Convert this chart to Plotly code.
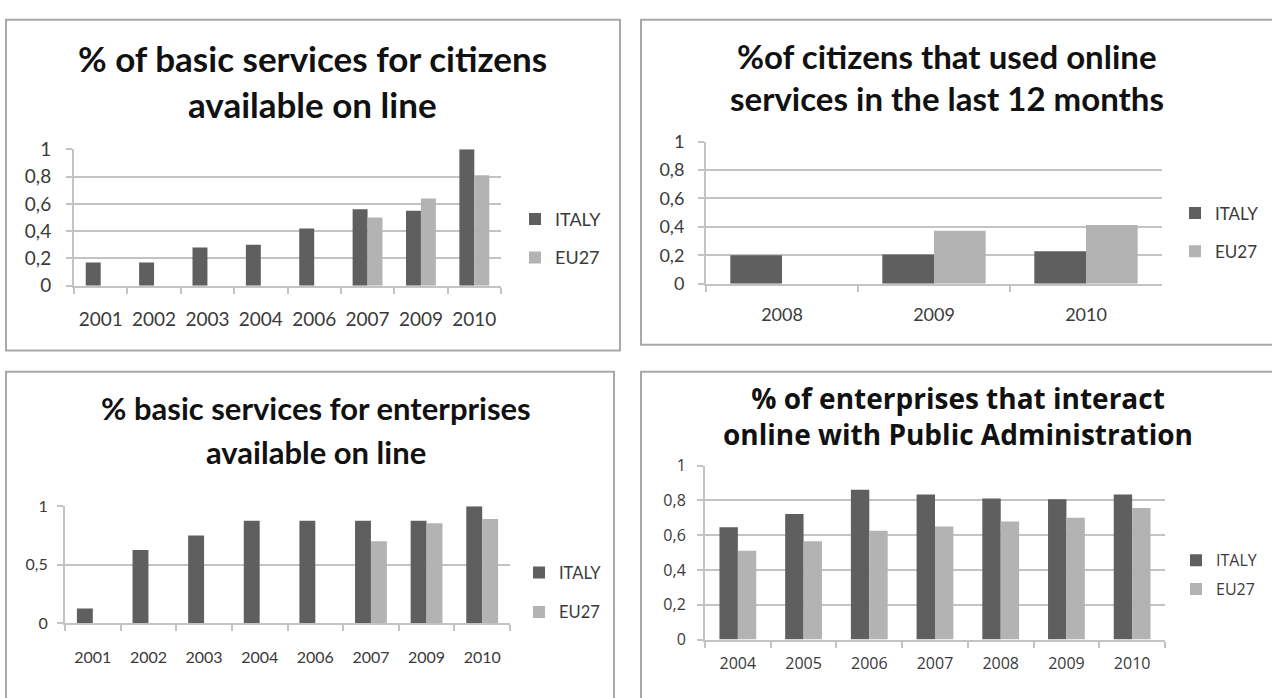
import plotly.graph_objects as go

# ---- data -------------------------------------------------------------
years_citizens_services = ["2001", "2002", "2003", "2004", "2006", "2007", "2009", "2010"]
italy_citizens_services = [0.17, 0.17, 0.28, 0.30, 0.42, 0.56, 0.55, 1.00]
eu27_citizens_services = [None, None, None, None, None, 0.50, 0.64, 0.81]

years_citizens_usage = ["2008", "2009", "2010"]
italy_citizens_usage = [0.20, 0.205, 0.228]
eu27_citizens_usage = [None, 0.373, 0.414]

years_enterprise_services = ["2001", "2002", "2003", "2004", "2006", "2007", "2009", "2010"]
italy_enterprise_services = [0.125, 0.625, 0.75, 0.875, 0.875, 0.875, 0.875, 1.00]
eu27_enterprise_services = [None, None, None, None, None, 0.70, 0.855, 0.89]

years_enterprise_usage = ["2004", "2005", "2006", "2007", "2008", "2009", "2010"]
italy_enterprise_usage = [0.645, 0.722, 0.861, 0.833, 0.811, 0.806, 0.833]
eu27_enterprise_usage = [0.511, 0.565, 0.626, 0.650, 0.678, 0.700, 0.756]

series_names = ["ITALY", "EU27"]

titles = [
    ["% of basic services for citizens", "available on line"],
    ["%of citizens that used online", "services in the last 12 months"],
    ["% basic services for enterprises", "available on line"],
    ["% of enterprises that interact", "online with Public Administration"],
]

# ---- page geometry (pixels) ------------------------------------------
W, H = 1272, 698
DARK = "#5f5f5f"
LIGHT = "#b3b3b3"
GRID = "#c3c3c3"
BORDER = "#a8a8a8"
TEXT = "#3a3a3a"
FONT = "Lato, Carlito, sans-serif"
FONT2 = "Open Sans, sans-serif"


def px(x):
    return x / W


def py(y):
    return 1 - y / H


# title_xy: centre x, then the centre y of each title line (None -> one
# two-line annotation centred on the single value given)
panels = [
    dict(cats=years_citizens_services, it=italy_citizens_services, eu=eu27_citizens_services,
         plot=(74, 501, 142, 283), box=(6, 620, 8, 350), bw=0.28, dtick=0.2,
         title_xy=(312, 48, 95), tsize=35, tfont=FONT,
         tick=19, xstand=16, ystand=11, fam=FONT,
         legend=(515, 234), lsize=18, lgap=12),
    dict(cats=years_citizens_usage, it=italy_citizens_usage, eu=eu27_citizens_usage,
         plot=(706, 1162, 134, 281), box=(641, 1300, 8, 344), bw=0.34, dtick=0.2,
         title_xy=(947, 45, 89), tsize=33, tfont=FONT,
         tick=18, xstand=14, ystand=10, fam=FONT,
         legend=(1175, 228), lsize=17, lgap=13),
    dict(cats=years_enterprise_services, it=italy_enterprise_services, eu=eu27_enterprise_services,
         plot=(65, 510, 511, 632), box=(6, 614, 372, 720), bw=0.286, dtick=0.5,
         title_xy=(316, 410, 455), tsize=31, tfont=FONT,
         tick=16, xstand=19, ystand=6, fam=FONT,
         legend=(519, 600), lsize=16.5, lgap=15),
    dict(cats=years_enterprise_usage, it=italy_enterprise_usage, eu=eu27_enterprise_usage,
         plot=(705, 1165, 469, 649), box=(641, 1300, 372, 720), bw=0.28, dtick=0.2,
         title_xy=(958, 418, None), tsize=28, tfont=FONT2,
         tick=16, xstand=8, ystand=8, fam=FONT2,
         legend=(1176, 582), lsize=16, lgap=5),
]

fig = go.Figure()
layout = dict(
    width=W, height=H, margin=dict(l=0, r=0, t=0, b=0),
    paper_bgcolor="white", plot_bgcolor="white",
    separators=",.", barmode="overlay", showlegend=True,
    shapes=[], annotations=[],
)

for i, p in enumerate(panels, start=1):
    xa = "x" if i == 1 else f"x{i}"
    ya = "y" if i == 1 else f"y{i}"
    lg = "legend" if i == 1 else f"legend{i}"
    for name, vals, color, off in ((series_names[0], p["it"], DARK, -p["bw"]),
                                   (series_names[1], p["eu"], LIGHT, 0)):
        fig.add_trace(go.Bar(
            x=p["cats"], y=vals, name=name, marker_color=color, marker_line_width=0,
            width=p["bw"], offset=off, xaxis=xa, yaxis=ya, legend=lg,
            legendgroup=f"{lg}-{name}", hoverinfo="skip",
        ))

    x0, x1, y0, y1 = p["plot"]
    sfx = "" if i == 1 else str(i)
    tickfont = dict(family=p["fam"], size=p["tick"], color=TEXT)
    layout["xaxis" + sfx] = dict(
        domain=[px(x0), px(x1)], anchor=ya, type="category",
        range=[-0.5, len(p["cats"]) - 0.5],
        showline=True, linecolor=GRID, linewidth=2,
        ticks="outside", tickson="boundaries", ticklen=6, tickcolor=GRID, tickwidth=1.5,
        tickangle=0, ticklabelstandoff=p["xstand"], tickfont=tickfont,
        showgrid=False, fixedrange=True,
    )
    layout["yaxis" + sfx] = dict(
        domain=[py(y1), py(y0)], anchor=xa, range=[0, 1], dtick=p["dtick"],
        showline=True, linecolor=GRID, linewidth=2,
        ticks="outside", ticklen=6, tickcolor=GRID, tickwidth=1.5,
        ticklabelstandoff=p["ystand"],
        showgrid=True, gridcolor=GRID, gridwidth=1.5, zeroline=False,
        tickfont=tickfont, fixedrange=True,
    )
    lx, ly = p["legend"]
    layout[lg] = dict(
        x=px(lx), y=py(ly), xanchor="left", yanchor="middle",
        font=dict(family=p["fam"], size=p["lsize"], color=TEXT),
        bgcolor="rgba(0,0,0,0)", tracegroupgap=p["lgap"], itemwidth=30,
        traceorder="grouped",
    )

    bx0, bx1, by0, by1 = p["box"]
    layout["shapes"].append(dict(
        type="rect", xref="paper", yref="paper",
        x0=px(bx0), x1=px(bx1), y0=py(by1), y1=py(by0),
        line=dict(color=BORDER, width=2), layer="below",
    ))
    tx, ty1, ty2 = p["title_xy"]
    tfont = dict(family=p["tfont"], size=p["tsize"], color="#111111")
    if ty2 is None:
        layout["annotations"].append(dict(
            text="<br>".join(f"<b>{line}</b>" for line in titles[i - 1]),
            x=px(tx), y=py(ty1), xref="paper", yref="paper",
            xanchor="center", yanchor="middle", showarrow=False, font=tfont,
        ))
    else:
        for line, ty in zip(titles[i - 1], (ty1, ty2)):
            layout["annotations"].append(dict(
                text=f"<b>{line}</b>", x=px(tx), y=py(ty), xref="paper", yref="paper",
                xanchor="center", yanchor="middle", showarrow=False, font=tfont,
            ))

fig.update_layout(**layout)
fig.write_html("out.html")
